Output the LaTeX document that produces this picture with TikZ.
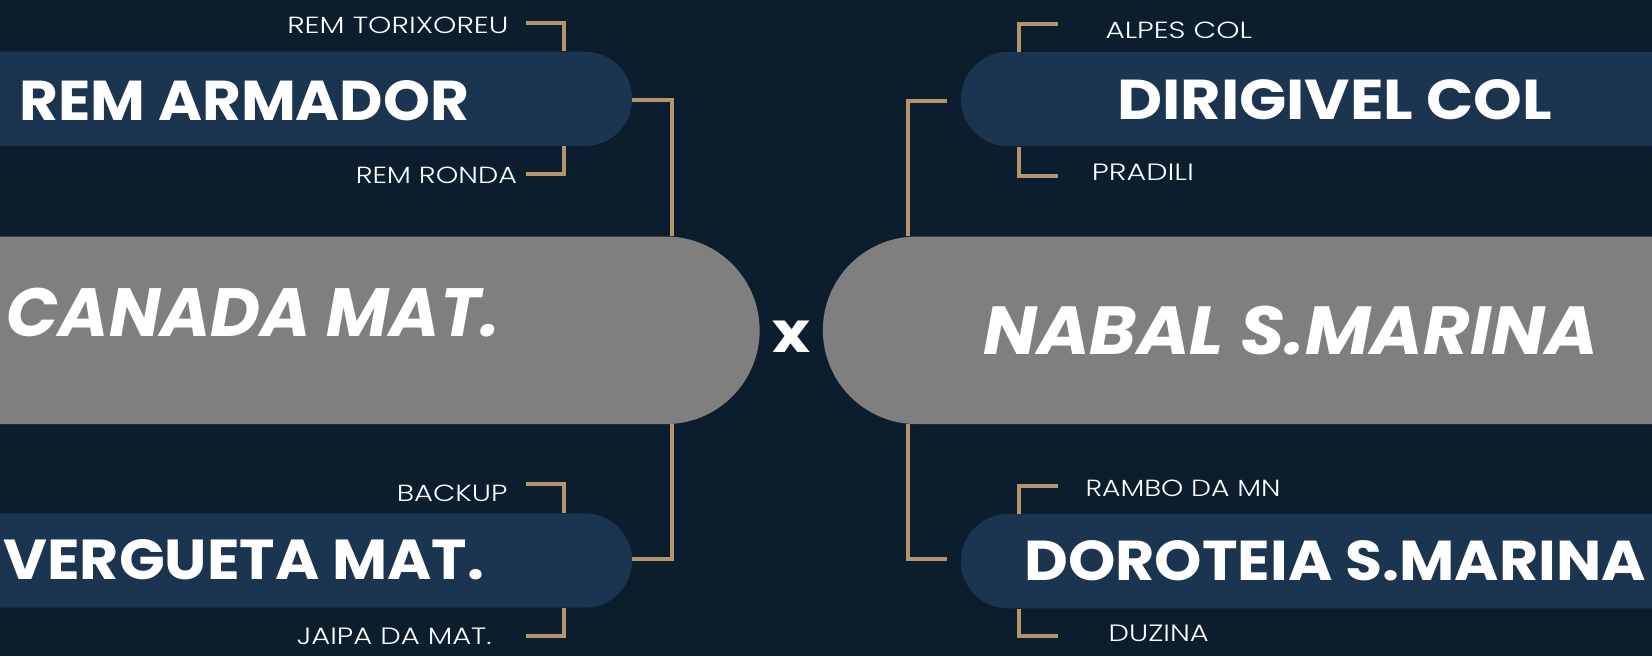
\documentclass[tikz,border=0pt]{standalone}
\usepackage{fontspec}
\setmainfont{Poppins}
\newfontfamily\lightfont{Poppins Light}
\usetikzlibrary{shapes.misc}
\definecolor{bg}{HTML}{0C1E2D}
\definecolor{boxblue}{HTML}{1B3550}
\definecolor{boxgray}{HTML}{7F7F7F}
\definecolor{gold}{HTML}{B4946A}
\begin{document}
\begin{tikzpicture}[x=0.021072cm,y=-0.021072cm,
  bluebox/.style={rounded rectangle, rounded rectangle left arc=none, fill=boxblue, inner sep=0pt, minimum height=1.886cm},
  bluerbox/.style={rounded rectangle, rounded rectangle right arc=none, fill=boxblue, inner sep=0pt, minimum height=1.886cm},
  graybox/.style={rounded rectangle, rounded rectangle left arc=none, fill=boxgray, inner sep=0pt, minimum height=3.751cm},
  grayrbox/.style={rounded rectangle, rounded rectangle right arc=none, fill=boxgray, inner sep=0pt, minimum height=3.751cm},
  title/.style={text=white, inner sep=0pt, font=\bfseries},
  ititle/.style={text=white, inner sep=0pt, font=\bfseries\itshape},
  small/.style={text=white, inner sep=0pt, font=\lightfont},
  conn/.style={draw=gold, line width=2.3pt}]
\useasboundingbox[fill=bg] (0,0) rectangle (1568,623);

% boxes
\node[bluebox, minimum width=13.275cm] (ra) at (285,93.8) {};
\node[bluebox, minimum width=13.275cm] (vm) at (285,532) {};
\node[graybox, minimum width=15.825cm] (cm) at (345.5,313.5) {};
\node[grayrbox, minimum width=17.258cm] (ns) at (1190.5,313.5) {};
\node[bluerbox, minimum width=14.498cm] (dc) at (1256,94) {};
\node[bluerbox, minimum width=14.498cm] (ds) at (1256,532.7) {};

% titles
\node[title, anchor=base west] (raT) at (18,114) {\resizebox{8.998cm}{0.80cm}{REM ARMADOR}};
\node[title, anchor=base west] (vmT) at (3,550) {\resizebox{9.61cm}{0.80cm}{VERGUETA MAT.}};
\node[title, anchor=base west] (dcT) at (1060,113) {\resizebox{8.70cm}{0.80cm}{DIRIGIVEL COL}};
\node[title, anchor=base west] (dsT) at (972,551) {\resizebox{12.43cm}{0.80cm}{DOROTEIA S.MARINA}};
\node[ititle, anchor=base west] (cmT) at (6,319.5) {\resizebox{9.86cm}{0.969cm}{CANADA MAT.}};
\node[ititle, anchor=base west] (nsT) at (933,336) {\resizebox{12.29cm}{0.969cm}{NABAL S.MARINA}};
\node[title, anchor=base] (vs) at (751,335) {\resizebox{0.76cm}{0.63cm}{x}};

% small labels
\node[small, anchor=base east] (l1) at (483,31.5) {\resizebox{4.425cm}{0.33cm}{REM TORIXOREU}};
\node[small, anchor=base east] (l2) at (491,174) {\resizebox{3.224cm}{0.33cm}{REM RONDA}};
\node[small, anchor=base east] (l3) at (482,476) {\resizebox{2.213cm}{0.33cm}{BACKUP}};
\node[small, anchor=base east] (l4) at (467,612) {\resizebox{3.898cm}{0.33cm}{JAIPA DA MAT.}};
\node[small, anchor=base west] (r1) at (1049,36.4) {\resizebox{2.929cm}{0.33cm}{ALPES COL}};
\node[small, anchor=base west] (r2) at (1036,171) {\resizebox{2.044cm}{0.33cm}{PRADILI}};
\node[small, anchor=base west] (r3) at (1030,471) {\resizebox{3.898cm}{0.33cm}{RAMBO DA MN}};
\node[small, anchor=base west] (r4) at (1052,609) {\resizebox{2.002cm}{0.33cm}{DUZINA}};

% bracket end points
\coordinate (l1e) at (499,21.5);
\coordinate (l2e) at (499,165);
\coordinate (l3e) at (499,459);
\coordinate (l4e) at (499,604);
\coordinate (r1e) at (1004,23);
\coordinate (r2e) at (1004,167);
\coordinate (r3e) at (1004,461);
\coordinate (r4e) at (1004,604);

% small brackets
\draw[conn] (l1e) -| (ra.north -| 535.5,0);
\draw[conn] (l2e) -| (ra.south -| 535.5,0);
\draw[conn] (l3e) -| (vm.north -| 535.5,0);
\draw[conn] (l4e) -| (vm.south -| 535.5,0);
\draw[conn] (r1e) -| (dc.north -| 967,0);
\draw[conn] (r2e) -| (dc.south -| 967,0);
\draw[conn] (r3e) -| (ds.north -| 967,0);
\draw[conn] (r4e) -| (ds.south -| 967,0);

% main connectors
\coordinate (jl1) at (638,95);
\coordinate (jl2) at (638,531);
\coordinate (jr1) at (862,95.5);
\coordinate (jr2) at (862,531);
\draw[conn] (600,95) -- (jl1) -- (cm.north -| jl1);
\draw[conn] (cm.south -| jl2) -- (jl2) -- (600,531);
\draw[conn] (899,95.5) -- (jr1) -- (ns.north -| jr1);
\draw[conn] (ns.south -| jr2) -- (jr2) -- (899,531);
\end{tikzpicture}
\end{document}
